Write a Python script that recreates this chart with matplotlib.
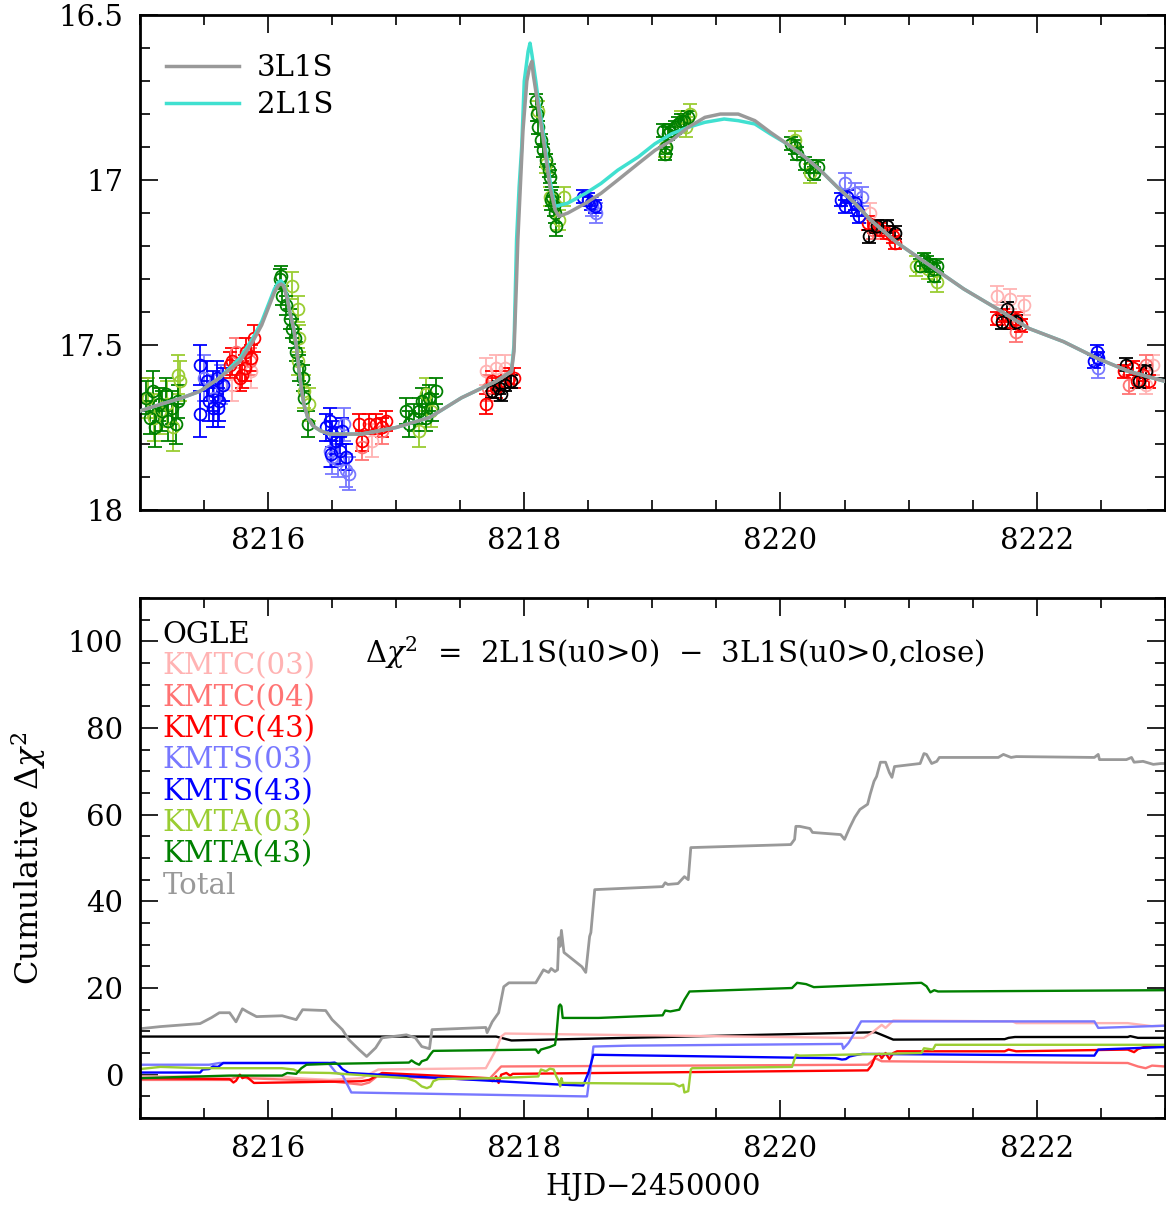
import matplotlib
matplotlib.use("Agg")
import matplotlib.pyplot as plt
from matplotlib.ticker import MultipleLocator

plt.rcParams["font.family"] = ["DejaVu Serif"]
plt.rcParams["mathtext.fontset"] = "dejavuserif"

# ---- light curve data: (HJD-2450000, mag, err) ----
ogle_pts = [(8217.75, 17.64, 0.02), (8217.80, 17.63, 0.02), (8217.85, 17.62, 0.02), (8217.90, 17.61, 0.02),
            (8217.82, 17.65, 0.02), (8220.69, 17.17, 0.02), (8220.75, 17.14, 0.02), (8220.83, 17.14, 0.02),
            (8220.89, 17.16, 0.02), (8221.73, 17.43, 0.02), (8221.77, 17.39, 0.02), (8221.84, 17.43, 0.02),
            (8222.70, 17.56, 0.02), (8222.80, 17.61, 0.02), (8222.85, 17.58, 0.02)]
kmtc03_pts = [(8215.72, 17.62, 0.05), (8215.87, 17.58, 0.05), (8216.81, 17.79, 0.05), (8217.70, 17.58, 0.04),
              (8217.78, 17.57, 0.04), (8217.85, 17.57, 0.04), (8220.70, 17.10, 0.03), (8221.69, 17.35, 0.03),
              (8221.79, 17.36, 0.03), (8221.90, 17.38, 0.03), (8222.91, 17.56, 0.03), (8222.85, 17.62, 0.03)]
kmtc04_pts = [(8215.75, 17.52, 0.04), (8215.86, 17.55, 0.04), (8216.73, 17.81, 0.04), (8216.89, 17.76, 0.04),
              (8217.72, 17.63, 0.04), (8220.72, 17.15, 0.03), (8221.84, 17.46, 0.03), (8222.72, 17.62, 0.03),
              (8222.85, 17.56, 0.03)]
kmtc43_pts = [(8215.70, 17.56, 0.04), (8215.72, 17.55, 0.04), (8215.78, 17.60, 0.04), (8215.80, 17.59, 0.04),
              (8215.82, 17.57, 0.04), (8215.83, 17.52, 0.04), (8215.87, 17.54, 0.04), (8215.89, 17.48, 0.04),
              (8216.71, 17.74, 0.03), (8216.73, 17.79, 0.03), (8216.79, 17.74, 0.03), (8216.84, 17.74, 0.03),
              (8216.89, 17.75, 0.03), (8216.92, 17.73, 0.03), (8217.70, 17.68, 0.03), (8217.75, 17.61, 0.03),
              (8217.78, 17.63, 0.03), (8217.82, 17.61, 0.03), (8217.88, 17.60, 0.03), (8217.92, 17.60, 0.03),
              (8220.68, 17.13, 0.02), (8220.73, 17.14, 0.02), (8220.78, 17.15, 0.02), (8220.83, 17.16, 0.02),
              (8220.89, 17.19, 0.02), (8220.88, 17.17, 0.02), (8221.69, 17.42, 0.02), (8221.74, 17.41, 0.02),
              (8221.79, 17.43, 0.02), (8221.84, 17.42, 0.02), (8221.88, 17.44, 0.02), (8222.68, 17.58, 0.02),
              (8222.75, 17.57, 0.02), (8222.83, 17.59, 0.02), (8222.88, 17.61, 0.02), (8222.78, 17.61, 0.02)]
kmts03_pts = [(8215.50, 17.60, 0.07), (8215.58, 17.66, 0.07), (8215.63, 17.62, 0.06), (8216.48, 17.82, 0.05),
              (8216.50, 17.84, 0.05), (8216.59, 17.74, 0.05), (8216.55, 17.85, 0.05), (8216.61, 17.88, 0.05),
              (8216.63, 17.89, 0.05), (8218.56, 17.10, 0.03), (8218.53, 17.08, 0.03), (8220.50, 17.01, 0.03),
              (8220.58, 17.04, 0.03), (8220.64, 17.05, 0.03), (8222.48, 17.57, 0.03)]
kmts43_pts = [(8215.47, 17.56, 0.06), (8215.47, 17.71, 0.07), (8215.52, 17.61, 0.06), (8215.54, 17.67, 0.06),
              (8215.57, 17.64, 0.06), (8215.60, 17.60, 0.05), (8215.62, 17.67, 0.06), (8215.65, 17.62, 0.05),
              (8215.57, 17.69, 0.06), (8215.61, 17.69, 0.06), (8216.45, 17.75, 0.04), (8216.48, 17.73, 0.04),
              (8216.50, 17.77, 0.04), (8216.53, 17.79, 0.04), (8216.56, 17.82, 0.04), (8216.58, 17.76, 0.04),
              (8216.61, 17.84, 0.04), (8216.49, 17.83, 0.04), (8218.46, 17.05, 0.02), (8218.50, 17.06, 0.02),
              (8218.52, 17.07, 0.02), (8218.55, 17.08, 0.02), (8220.47, 17.06, 0.02), (8220.52, 17.05, 0.02),
              (8220.58, 17.07, 0.02), (8220.60, 17.09, 0.02), (8220.61, 17.11, 0.02), (8220.50, 17.08, 0.02),
              (8222.47, 17.52, 0.02), (8222.48, 17.54, 0.02), (8222.45, 17.55, 0.02)]
kmta03_pts = [(8215.06, 17.66, 0.06), (8215.11, 17.72, 0.07), (8215.31, 17.61, 0.06), (8215.30, 17.59, 0.06),
              (8215.16, 17.70, 0.07), (8215.21, 17.68, 0.07), (8215.26, 17.75, 0.07), (8216.19, 17.32, 0.04),
              (8216.23, 17.39, 0.04), (8216.24, 17.48, 0.04), (8216.23, 17.55, 0.04), (8216.28, 17.64, 0.05),
              (8216.32, 17.68, 0.05), (8217.23, 17.65, 0.05), (8217.18, 17.76, 0.05), (8217.27, 17.70, 0.05),
              (8218.11, 16.79, 0.03), (8218.17, 16.95, 0.03), (8218.20, 17.05, 0.03), (8218.31, 17.05, 0.03),
              (8218.27, 17.12, 0.03), (8219.29, 16.80, 0.03), (8219.26, 16.84, 0.03), (8219.10, 16.90, 0.03),
              (8219.22, 16.82, 0.03), (8220.11, 16.88, 0.03), (8220.23, 16.98, 0.03), (8221.22, 17.31, 0.03),
              (8221.06, 17.26, 0.03), (8221.15, 17.27, 0.03)]
kmta43_pts = [(8215.05, 17.66, 0.05), (8215.08, 17.72, 0.05), (8215.10, 17.64, 0.06), (8215.12, 17.75, 0.06),
              (8215.15, 17.68, 0.05), (8215.17, 17.70, 0.06), (8215.20, 17.65, 0.05), (8215.22, 17.73, 0.06),
              (8215.25, 17.69, 0.05), (8215.28, 17.74, 0.06), (8215.30, 17.67, 0.05),
              (8216.09, 17.30, 0.03), (8216.10, 17.29, 0.03), (8216.11, 17.35, 0.03), (8216.14, 17.38, 0.03),
              (8216.17, 17.42, 0.03), (8216.19, 17.45, 0.03), (8216.21, 17.48, 0.03), (8216.22, 17.52, 0.03),
              (8216.24, 17.57, 0.04), (8216.27, 17.60, 0.04), (8216.28, 17.66, 0.04), (8216.31, 17.74, 0.04),
              (8217.08, 17.70, 0.04), (8217.10, 17.74, 0.04), (8217.14, 17.72, 0.04), (8217.18, 17.70, 0.04),
              (8217.20, 17.67, 0.04), (8217.23, 17.72, 0.04), (8217.26, 17.66, 0.04), (8217.28, 17.69, 0.04),
              (8217.31, 17.64, 0.04),
              (8218.09, 16.76, 0.02), (8218.10, 16.80, 0.02), (8218.11, 16.84, 0.02), (8218.13, 16.88, 0.02),
              (8218.15, 16.91, 0.02), (8218.17, 16.94, 0.02), (8218.19, 16.97, 0.02), (8218.20, 16.99, 0.02),
              (8218.21, 17.06, 0.03), (8218.23, 17.08, 0.03), (8218.24, 17.10, 0.03), (8218.25, 17.14, 0.03),
              (8218.22, 17.05, 0.03),
              (8219.08, 16.85, 0.02), (8219.10, 16.92, 0.02), (8219.11, 16.90, 0.02), (8219.12, 16.86, 0.02),
              (8219.14, 16.85, 0.02), (8219.18, 16.84, 0.02), (8219.20, 16.83, 0.02), (8219.22, 16.82, 0.02),
              (8219.25, 16.82, 0.02), (8219.28, 16.81, 0.02),
              (8220.08, 16.89, 0.02), (8220.11, 16.90, 0.02), (8220.13, 16.92, 0.02), (8220.19, 16.95, 0.02),
              (8220.23, 16.96, 0.02), (8220.26, 16.98, 0.02), (8220.29, 16.96, 0.02),
              (8221.09, 17.26, 0.02), (8221.12, 17.24, 0.02), (8221.14, 17.25, 0.02), (8221.17, 17.26, 0.02),
              (8221.20, 17.27, 0.02), (8221.22, 17.26, 0.02), (8221.20, 17.29, 0.02)]

# ---- model curves (HJD-2450000, mag) ----
model_3l1s = [(8215.00, 17.70), (8215.16, 17.68), (8215.33, 17.66), (8215.47, 17.64), (8215.62, 17.60),
              (8215.78, 17.55), (8215.88, 17.49), (8215.95, 17.44), (8216.01, 17.38), (8216.05, 17.34),
              (8216.08, 17.32), (8216.10, 17.315), (8216.12, 17.32), (8216.15, 17.36), (8216.17, 17.40),
              (8216.20, 17.45), (8216.22, 17.50), (8216.24, 17.57), (8216.26, 17.63), (8216.28, 17.68),
              (8216.31, 17.72), (8216.35, 17.745), (8216.41, 17.76), (8216.48, 17.77), (8216.73, 17.77),
              (8217.00, 17.75), (8217.26, 17.72), (8217.51, 17.66), (8217.78, 17.61), (8217.90, 17.58),
              (8217.92, 17.52), (8217.94, 17.30), (8217.95, 17.18), (8217.99, 16.85), (8218.02, 16.70),
              (8218.04, 16.66), (8218.06, 16.64), (8218.07, 16.68), (8218.15, 16.88), (8218.20, 17.02),
              (8218.24, 17.09), (8218.27, 17.11), (8218.34, 17.10), (8218.48, 17.07), (8218.60, 17.04),
              (8218.73, 17.00), (8218.89, 16.95), (8219.02, 16.91), (8219.15, 16.88), (8219.28, 16.84),
              (8219.41, 16.81), (8219.53, 16.80), (8219.67, 16.80), (8219.80, 16.82), (8219.92, 16.855),
              (8220.05, 16.89), (8220.19, 16.93), (8220.31, 16.97), (8220.44, 17.02), (8220.58, 17.07),
              (8220.70, 17.12), (8220.91, 17.19), (8221.17, 17.26), (8221.43, 17.33), (8221.69, 17.39),
              (8221.94, 17.45), (8222.21, 17.49), (8222.47, 17.54), (8222.72, 17.58), (8223.00, 17.61)]
model_2l1s = [(8215.00, 17.70), (8215.16, 17.68), (8215.33, 17.66), (8215.47, 17.64), (8215.62, 17.60),
              (8215.78, 17.54), (8215.88, 17.48), (8215.95, 17.43), (8216.01, 17.37), (8216.05, 17.33),
              (8216.08, 17.31), (8216.10, 17.305), (8216.12, 17.315), (8216.15, 17.355), (8216.17, 17.40),
              (8216.20, 17.45), (8216.22, 17.50), (8216.24, 17.57), (8216.26, 17.63), (8216.28, 17.68),
              (8216.31, 17.72), (8216.35, 17.745), (8216.41, 17.76), (8216.48, 17.77), (8216.73, 17.77),
              (8217.00, 17.75), (8217.26, 17.72), (8217.51, 17.66), (8217.78, 17.61), (8217.90, 17.58),
              (8217.92, 17.50), (8217.94, 17.18), (8217.96, 17.02), (8217.98, 16.90), (8218.00, 16.70),
              (8218.03, 16.61), (8218.045, 16.585), (8218.06, 16.62), (8218.09, 16.70), (8218.11, 16.76),
              (8218.15, 16.86), (8218.20, 17.00), (8218.24, 17.08), (8218.34, 17.07), (8218.48, 17.04),
              (8218.60, 17.01), (8218.73, 16.97), (8218.89, 16.93), (8219.02, 16.89), (8219.15, 16.86),
              (8219.28, 16.84), (8219.41, 16.825), (8219.56, 16.815), (8219.67, 16.82), (8219.80, 16.83),
              (8219.92, 16.86), (8220.05, 16.89), (8220.19, 16.93), (8220.31, 16.97), (8220.44, 17.02),
              (8220.58, 17.07), (8220.70, 17.12), (8220.91, 17.19), (8221.17, 17.26), (8221.43, 17.33),
              (8221.69, 17.39), (8221.94, 17.45), (8222.21, 17.49), (8222.47, 17.54), (8222.72, 17.58),
              (8223.00, 17.61)]

# ---- cumulative delta chi^2 (HJD-2450000, value) ----
dchi_ogle = [(8215.00, 8.8), (8217.78, 8.8), (8217.90, 7.9), (8220.74, 9.8), (8220.79, 9.2), (8220.88, 8.1),
             (8221.75, 8.2), (8221.78, 8.5), (8221.83, 8.7), (8222.71, 8.7), (8222.73, 8.9), (8222.79, 8.5),
             (8223.00, 8.5)]
dchi_kmtc03 = [(8215.00, -0.4), (8216.11, -0.4), (8216.22, -0.8), (8216.48, -1.2), (8216.73, -0.8),
               (8216.86, 1.2), (8217.70, 1.5), (8217.78, 5.8), (8217.82, 8.8), (8217.85, 9.5), (8220.51, 8.5),
               (8220.65, 8.5), (8220.71, 9.6), (8220.79, 11.5), (8220.82, 10.8), (8220.88, 12.5),
               (8221.81, 12.3), (8221.84, 11.9), (8222.71, 11.9), (8222.90, 11.2), (8223.00, 11.3)]
dchi_kmtc04 = [(8215.00, -1.2), (8215.70, -1.2), (8215.78, -0.2), (8215.83, -0.8), (8216.48, -1.5),
               (8216.73, -2.3), (8216.79, -1.8), (8216.85, -0.4), (8217.72, -1.2), (8217.82, 1.9),
               (8220.68, 2.3), (8220.74, 3.8), (8220.79, 3.1), (8222.71, 2.7), (8222.79, 1.9),
               (8222.85, 1.5), (8222.90, 2.1), (8223.00, 1.9)]
dchi_kmtc43 = [(8215.00, -0.8), (8215.70, -1.0), (8215.73, -1.8), (8215.75, -1.4), (8215.78, 0.0),
               (8215.80, -0.8), (8215.83, -0.4), (8215.89, -1.9), (8216.73, -1.5), (8216.79, -1.2),
               (8216.89, 0.4), (8217.72, -0.8), (8217.75, -1.5), (8217.78, -0.4), (8217.80, -1.9),
               (8217.82, 0.0), (8217.86, 0.4), (8217.89, -0.2), (8217.91, 0.2), (8220.68, 1.0),
               (8220.71, 2.1), (8220.74, 4.2), (8220.77, 4.8), (8220.79, 3.8), (8220.82, 5.0), (8220.85, 3.6),
               (8220.88, 5.0), (8220.91, 5.4), (8221.75, 5.4), (8221.78, 5.8), (8221.84, 5.4), (8222.71, 5.8),
               (8222.76, 5.2), (8222.79, 5.9), (8222.85, 6.5), (8223.00, 6.4)]
dchi_kmts03 = [(8215.00, 2.3), (8215.54, 2.3), (8215.62, 2.7), (8216.47, 2.7), (8216.53, 0.5), (8216.58, 0.0),
               (8216.65, -4.1), (8218.46, -5.0), (8218.49, -5.0), (8218.54, 6.5), (8218.81, 6.7),
               (8220.48, 7.1), (8220.49, 6.0), (8220.53, 7.3), (8220.57, 9.2), (8220.63, 12.3),
               (8222.45, 12.3), (8222.48, 10.8), (8223.00, 11.3)]
dchi_kmts43 = [(8215.00, 0.5), (8215.47, 0.5), (8215.49, 1.2), (8215.54, 1.3), (8215.57, 1.9), (8215.61, 1.8),
               (8215.65, 2.7), (8216.48, 2.7), (8216.52, 2.8), (8216.55, 2.3), (8216.58, 1.3), (8216.63, 0.4),
               (8218.29, -2.3), (8218.46, -2.5), (8218.50, 0.4), (8218.54, 4.6), (8220.43, 3.8),
               (8220.48, 3.5), (8220.51, 3.6), (8220.54, 4.2), (8220.60, 4.6), (8220.64, 4.8),
               (8222.45, 4.4), (8222.48, 5.8), (8223.00, 6.4)]
dchi_kmta03 = [(8215.00, 1.3), (8215.16, 1.8), (8215.49, 1.5), (8216.11, 1.5), (8216.20, 1.2), (8216.25, 0.5),
               (8216.48, 0.4), (8217.08, -0.8), (8217.15, -1.5), (8217.20, -2.7), (8217.24, -3.1),
               (8217.27, -2.7), (8217.29, -1.5), (8217.33, -1.0), (8217.78, -0.8), (8218.11, -0.4),
               (8218.13, 1.2), (8218.17, 0.8), (8218.20, 1.4), (8218.23, 1.2), (8218.25, -0.4),
               (8218.27, -1.5), (8218.28, -2.7), (8218.29, -0.8), (8218.30, -1.9), (8219.17, -2.1),
               (8219.21, -2.7), (8219.24, -2.3), (8219.25, -4.1), (8219.28, -3.8), (8219.30, 1.2),
               (8219.31, 1.5), (8220.09, 1.8), (8220.12, 4.6), (8220.15, 4.4), (8221.10, 5.0),
               (8221.12, 6.1), (8221.19, 5.8), (8221.21, 6.9), (8223.00, 6.9)]
dchi_kmta43 = [(8215.00, -0.8), (8215.70, -0.2), (8216.11, -0.2), (8216.15, 0.4), (8216.22, 0.2),
               (8216.26, 1.5), (8216.30, 2.3), (8216.48, 2.5), (8217.10, 2.8), (8217.12, 3.3), (8217.15, 2.7),
               (8217.18, 2.3), (8217.20, 3.1), (8217.24, 3.5), (8217.27, 4.8), (8217.29, 5.5), (8218.09, 5.8),
               (8218.11, 5.0), (8218.13, 5.8), (8218.20, 6.4), (8218.24, 6.9), (8218.25, 8.8), (8218.27, 15.8),
               (8218.28, 16.2), (8218.29, 15.8), (8218.30, 13.1), (8218.58, 13.1), (8219.08, 13.7),
               (8219.10, 14.8), (8219.14, 14.6), (8219.21, 15.0), (8219.25, 17.3), (8219.29, 19.2),
               (8220.09, 20.0), (8220.13, 21.2), (8220.20, 20.9), (8220.26, 20.2), (8221.10, 21.2),
               (8221.14, 20.4), (8221.17, 19.0), (8221.20, 19.5), (8221.23, 19.2), (8223.00, 19.5)]
dchi_total = [(8215.00, 10.6), (8215.16, 11.1), (8215.47, 11.8), (8215.56, 13.2), (8215.62, 14.3), (8215.70, 14.3),
              (8215.75, 12.2), (8215.80, 15.2), (8215.84, 14.5), (8215.91, 13.4), (8216.11, 13.6), (8216.22, 12.7),
              (8216.27, 15.0), (8216.45, 14.8), (8216.50, 12.7), (8216.58, 10.4), (8216.63, 8.1), (8216.71, 5.8),
              (8216.77, 4.2), (8216.84, 6.2), (8216.89, 8.5), (8217.08, 9.2), (8217.15, 8.5), (8217.20, 6.5),
              (8217.26, 6.0), (8217.28, 10.4), (8217.70, 10.9), (8217.71, 9.7), (8217.75, 12.2), (8217.80, 14.3),
              (8217.84, 20.3), (8217.88, 21.2), (8218.09, 21.2), (8218.11, 22.2), (8218.15, 24.2), (8218.19, 23.6),
              (8218.21, 24.5), (8218.24, 23.8), (8218.26, 24.2), (8218.27, 31.6), (8218.28, 29.6), (8218.29, 33.3),
              (8218.31, 28.2), (8218.45, 24.9), (8218.48, 23.6), (8218.51, 31.9), (8218.52, 32.8), (8218.55, 42.7),
              (8219.08, 43.4), (8219.10, 44.3), (8219.12, 43.9), (8219.20, 44.1), (8219.25, 45.7), (8219.28, 45.0),
              (8219.30, 52.4), (8220.08, 53.1), (8220.11, 54.3), (8220.12, 57.3), (8220.15, 57.3), (8220.23, 56.8),
              (8220.25, 55.9), (8220.47, 55.4), (8220.50, 54.3), (8220.54, 57.0), (8220.58, 59.4), (8220.62, 61.2),
              (8220.68, 62.4), (8220.70, 64.7), (8220.73, 67.7), (8220.75, 68.8), (8220.78, 72.1), (8220.82, 72.1),
              (8220.85, 69.7), (8220.87, 68.6), (8220.89, 71.1), (8221.09, 71.8), (8221.12, 74.1), (8221.14, 73.9),
              (8221.18, 71.8), (8221.22, 72.3), (8221.24, 73.2), (8221.70, 73.2), (8221.74, 73.9), (8221.80, 73.2),
              (8221.84, 73.4), (8222.45, 73.2), (8222.48, 73.9), (8222.49, 72.7), (8222.70, 72.7), (8222.74, 73.2),
              (8222.76, 72.1), (8222.83, 72.3), (8222.91, 71.6), (8222.97, 71.8), (8223.00, 71.8)]

names = ["OGLE", "KMTC(03)", "KMTC(04)", "KMTC(43)", "KMTS(03)", "KMTS(43)", "KMTA(03)", "KMTA(43)", "Total"]
colors = ["black", "#ffb3b3", "#ff7373", "red", "#7878ff", "blue", "#9acd32", "green", "#999999"]
phot = [ogle_pts, kmtc03_pts, kmtc04_pts, kmtc43_pts, kmts03_pts, kmts43_pts, kmta03_pts, kmta43_pts]
dchi = [dchi_ogle, dchi_kmtc03, dchi_kmtc04, dchi_kmtc43, dchi_kmts03, dchi_kmts43, dchi_kmta03, dchi_kmta43,
        dchi_total]
# plot order so the darker data sit on top
draw_order = [1, 2, 4, 6, 3, 5, 7, 0]

FS = 21


def style_axes(ax):
    ax.tick_params(which="both", direction="in", top=True, right=True, labelsize=FS, width=1.2, pad=12)
    ax.tick_params(which="major", length=13)
    ax.tick_params(which="minor", length=7)
    for s in ax.spines.values():
        s.set_linewidth(2)


fig = plt.figure(figsize=(11.66, 12.07), dpi=100)
ax1 = fig.add_axes([0.120, 0.5775, 0.879, 0.410])
ax2 = fig.add_axes([0.120, 0.0737, 0.879, 0.4309])

# top: light curve
for i in draw_order:
    t = [p[0] for p in phot[i]]
    m = [p[1] for p in phot[i]]
    e = [p[2] for p in phot[i]]
    ax1.errorbar(t, m, yerr=e, fmt="o", ms=8.5, mfc="none", mec=colors[i], mew=1.3,
                 ecolor=colors[i], elinewidth=1.3, capsize=5, capthick=1.3, zorder=2)

ax1.plot([p[0] for p in model_3l1s], [p[1] for p in model_3l1s], color="#999999", lw=2.5, label="3L1S", zorder=4)
ax1.plot([p[0] for p in model_2l1s], [p[1] for p in model_2l1s], color="#40e0d0", lw=2.5, label="2L1S", zorder=3)

ax1.set_xlim(8215, 8223)
ax1.set_ylim(18, 16.5)
ax1.xaxis.set_major_locator(MultipleLocator(2))
ax1.xaxis.set_minor_locator(MultipleLocator(0.5))
ax1.yaxis.set_minor_locator(MultipleLocator(0.1))
ax1.set_yticks([16.5, 17, 17.5, 18])
ax1.set_yticklabels(["16.5", "17", "17.5", "18"])
style_axes(ax1)
ax1.legend(loc="upper left", bbox_to_anchor=(0.0, 0.975), frameon=False, fontsize=FS,
           handlelength=2.5, handletextpad=0.6, labelspacing=0.32, borderaxespad=0.5)

# bottom: cumulative delta chi^2
for i in range(len(dchi)):
    lw = 2.0 if names[i] == "Total" else 1.7
    ax2.plot([p[0] for p in dchi[i]], [p[1] for p in dchi[i]], color=colors[i], lw=lw)

ax2.set_xlim(8215, 8223)
ax2.set_ylim(-10, 110)
ax2.xaxis.set_major_locator(MultipleLocator(2))
ax2.xaxis.set_minor_locator(MultipleLocator(0.5))
ax2.yaxis.set_major_locator(MultipleLocator(20))
ax2.yaxis.set_minor_locator(MultipleLocator(5))
style_axes(ax2)

for i, name in enumerate(names):
    ax2.text(0.022, 0.928 - i * 0.0602, name, color=colors[i], fontsize=FS,
             transform=ax2.transAxes, ha="left", va="center")

ax2.text(0.2195, 0.894, r"$\Delta\chi^2$  =  2L1S(u0>0)  $-$  3L1S(u0>0,close)", fontsize=FS,
         transform=ax2.transAxes, ha="left", va="center")

ax2.set_xlabel("HJD$-$2450000", fontsize=FS, labelpad=6)
ax2.set_ylabel(r"Cumulative $\Delta\chi^2$", fontsize=FS + 2, labelpad=14)

fig.savefig("out.png", dpi=100)
